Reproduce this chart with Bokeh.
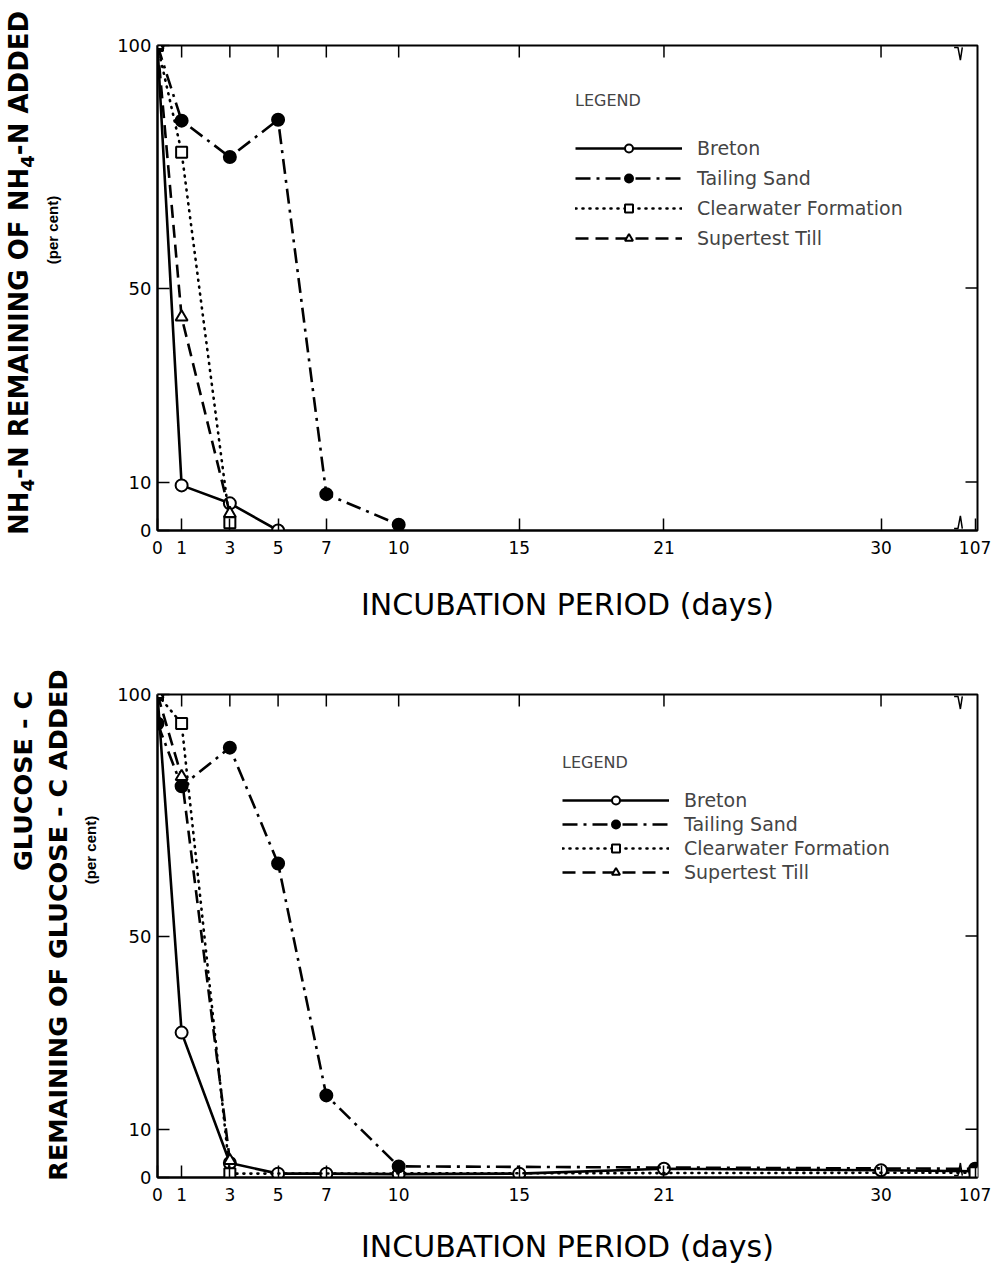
from bokeh.plotting import figure
from bokeh.layouts import column, row
from bokeh.models import (FixedTicker, Range1d, Legend, LegendItem, Div)
from bokeh.embed import file_html
from bokeh.resources import INLINE

# ---------------- data ----------------
x_tick_days = [0, 1, 3, 5, 7, 10, 15, 21, 30, 107]
x_top_tick_days = [1, 3, 5, 7, 10, 15, 21, 30]
y_ticks = [0, 10, 50, 100]
y_right_ticks = [10, 50]

series_names = ["Breton", "Tailing Sand", "Clearwater Formation", "Supertest Till"]

# NH4-N remaining (per cent)
nh4_breton_days = [0, 1, 3, 5]
nh4_breton = [100, 9.3, 5.6, 0]
nh4_tailing_days = [0, 1, 3, 5, 7, 10]
nh4_tailing = [100, 84.5, 77, 84.7, 7.5, 1.2]
nh4_clear_days = [0, 1, 3]
nh4_clear = [100, 78, 1.6]
nh4_super_days = [0, 1, 3]
nh4_super = [100, 44, 3.5]

# Glucose-C remaining (per cent)
glu_breton_days = [0, 1, 3, 5, 7, 10, 15, 21, 30, 107]
glu_breton = [100, 30, 3.0, 0.8, 0.8, 0.7, 0.8, 1.8, 1.5, 1.3]
glu_tailing_days = [0, 1, 3, 5, 7, 10, 107]
glu_tailing = [94, 81, 89, 65, 17, 2.3, 1.8]
glu_clear_days = [0, 1, 3, 107]
glu_clear = [100, 94, 0.8, 1.0]
glu_super_days = [0, 1, 3]
glu_super = [100, 83, 3.5]

# y-axis titles: (html text, css font, centre x px, centre y px within the label strip)
nh4_titles = [("NH<sub style='font-size:70%'>4</sub>-N REMAINING OF NH<sub style='font-size:70%'>4</sub>-N ADDED",
               "bold 26px 'DejaVu Sans'", 22, 273),
              ("(per cent)", "bold 15px 'Liberation Sans'", 52, 230)]
glu_titles = [("GLUCOSE - C", "bold 25.5px 'DejaVu Sans'", 24, 151),
              ("REMAINING OF GLUCOSE - C ADDED", "bold 25.5px 'DejaVu Sans'", 59, 295),
              ("(per cent)", "bold 15px 'Liberation Sans'", 90, 220)]

# ---------------- broken x axis mapping ----------------
LINEAR_LIMIT = 30      # axis is linear in days up to here
BREAK_POS = 33.25      # where the axis break is drawn
POS_FAR = 33.9         # axis position of the far (107 d) point
X_END = 34.0


def xpos(d):
    return d if d <= LINEAR_LIMIT else POS_FAR


def xpos_list(days):
    return [xpos(d) for d in days]


# ---------------- styles ----------------
FONT = "DejaVu Sans"
STYLES = {
    "Breton": dict(dash="solid", marker="circle", fill="white", size=12),
    "Tailing Sand": dict(dash="15 6 3 6", marker="circle", fill="black", size=12),
    "Clearwater Formation": dict(dash="1 6", marker="square", fill="white", size=11),
    "Supertest Till": dict(dash="13 7", marker="triangle", fill="white", size=12),
}

STRIP_W = 100
W = 895
LEFT = 57
FRAME_W = 820
RIGHT = W - LEFT - FRAME_W
TICK_PX = 12


def make_strip(height, titles):
    parts = []
    for (txt, font, x, y) in titles:
        parts.append(
            f"<div style=\"position:absolute; left:{x}px; top:{y}px; white-space:nowrap; "
            f"font:{font}; color:black; line-height:1; "
            f"transform:translate(-50%,-50%) rotate(-90deg);\">{txt}</div>")
    return Div(text="".join(parts), width=STRIP_W, height=height, margin=0,
               styles={"position": "relative", "overflow": "visible"})


def make_panel(data, height, b_top, b_bottom, xlabel_standoff, legend_loc, legend_spacing,
               legend_title_standoff):
    frame_h = height - b_top - b_bottom
    p = figure(width=W, height=height, x_range=Range1d(0, X_END), y_range=Range1d(0, 100),
               output_backend="svg", toolbar_location=None,
               min_border_left=LEFT, min_border_right=RIGHT,
               min_border_top=b_top, min_border_bottom=b_bottom)
    p.grid.visible = False
    p.outline_line_color = "black"
    p.outline_line_width = 2
    p.background_fill_color = "white"

    xa = p.xaxis[0]
    xa.ticker = FixedTicker(ticks=[xpos(d) for d in x_tick_days])
    xa.major_label_overrides = {xpos(d): str(d) for d in x_tick_days}
    xa.axis_label = "INCUBATION PERIOD (days)"
    xa.axis_label_text_font = FONT
    xa.axis_label_text_font_size = "30px"
    xa.axis_label_text_font_style = "normal"
    xa.axis_label_text_color = "black"
    xa.axis_label_standoff = xlabel_standoff
    ya = p.yaxis[0]
    ya.ticker = FixedTicker(ticks=y_ticks)
    for ax in (xa, ya):
        ax.major_tick_in = TICK_PX
        ax.major_tick_out = 0
        ax.minor_tick_in = 0
        ax.minor_tick_out = 0
        ax.axis_line_width = 2
        ax.major_tick_line_width = 1.5
        ax.major_label_text_font = FONT
        ax.major_label_text_color = "black"
    xa.major_label_text_font_size = "17px"
    ya.major_label_text_font_size = "18px"
    xa.major_label_standoff = 10
    ya.major_label_standoff = 6

    # mirrored ticks on the top and right frame edges
    ty = TICK_PX * 100.0 / frame_h
    tx = TICK_PX * X_END / FRAME_W
    top_x = xpos_list(x_top_tick_days)
    p.segment(x0=top_x, y0=[100] * len(top_x), x1=top_x, y1=[100 - ty] * len(top_x),
              line_color="black", line_width=1.5)
    p.segment(x0=[X_END] * len(y_right_ticks), y0=y_right_ticks,
              x1=[X_END - tx] * len(y_right_ticks), y1=y_right_ticks,
              line_color="black", line_width=1.5)

    items = []
    for name in series_names:
        days, vals = data[name]
        st = STYLES[name]
        xs = xpos_list(days)
        lr = p.line(xs, vals, line_color="black", line_width=2.6, line_dash=st["dash"],
                    line_cap="round" if name == "Clearwater Formation" else "butt")
        sr = p.scatter(xs, vals, marker=st["marker"], size=st["size"], fill_color=st["fill"],
                       line_color="black", line_width=2)
        items.append(LegendItem(label=name, renderers=[lr, sr]))

    # axis break marks
    for yb in (0.4, 99.6):
        sgn = 1 if yb < 50 else -1
        p.line([BREAK_POS - 0.22, BREAK_POS - 0.06, BREAK_POS + 0.04, BREAK_POS + 0.12],
               [yb, yb, yb + sgn * 2.6, yb], line_color="black", line_width=1.5)

    leg = Legend(items=items, location=legend_loc, title="LEGEND",
                 title_text_font=FONT, title_text_font_size="16px",
                 title_text_font_style="normal", title_standoff=legend_title_standoff,
                 label_text_font=FONT, label_text_font_size="19px",
                 glyph_width=107, glyph_height=20, label_height=20, label_standoff=15,
                 spacing=legend_spacing, padding=0, margin=0,
                 border_line_color=None, background_fill_alpha=0)
    p.add_layout(leg)
    return p


nh4_data = {
    "Breton": (nh4_breton_days, nh4_breton),
    "Tailing Sand": (nh4_tailing_days, nh4_tailing),
    "Clearwater Formation": (nh4_clear_days, nh4_clear),
    "Supertest Till": (nh4_super_days, nh4_super),
}
glu_data = {
    "Breton": (glu_breton_days, glu_breton),
    "Tailing Sand": (glu_tailing_days, glu_tailing),
    "Clearwater Formation": (glu_clear_days, glu_clear),
    "Supertest Till": (glu_super_days, glu_super),
}

H1, H2 = 630, 638
p1 = make_panel(nh4_data, height=H1, b_top=45, b_bottom=100, xlabel_standoff=30,
                legend_loc=(418, 281), legend_spacing=8, legend_title_standoff=27)
p2 = make_panel(glu_data, height=H2, b_top=64, b_bottom=91, xlabel_standoff=25,
                legend_loc=(405, 294), legend_spacing=2, legend_title_standoff=17)
s1 = make_strip(H1, nh4_titles)
s2 = make_strip(H2, glu_titles)

layout = column(row(s1, p1), row(s2, p2))
open("out.html", "w").write(file_html(layout, INLINE))
